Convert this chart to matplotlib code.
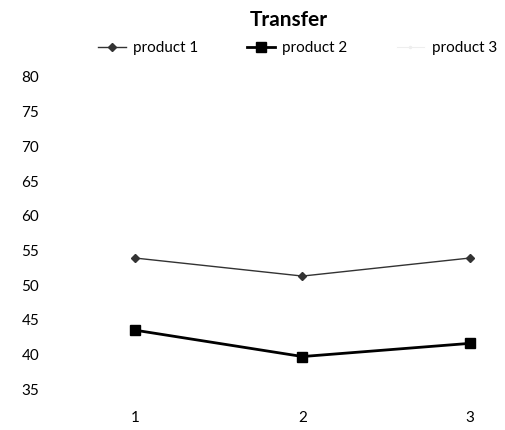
"""Line chart: Transfer values for three products."""

import numpy as np
import matplotlib

matplotlib.use("Agg")
import matplotlib.pyplot as plt

plt.rcParams["font.family"] = ["Lato", "DejaVu Sans"]

categories = [1, 2, 3]
product_1 = [53.9, 51.3, 53.9]
product_2 = [43.5, 39.7, 41.6]
product_3 = [np.nan, np.nan, np.nan]  # not visible in the reference
y_ticks = [35, 40, 45, 50, 55, 60, 65, 70, 75, 80]

fig = plt.figure(figsize=(5.06, 4.30), dpi=100)
ax = fig.add_axes([0.105, 0.095, 0.883, 0.726])

ax.plot(categories, product_1, color="#333333", linewidth=1.0,
        marker="D", markersize=4, label="product 1")
ax.plot(categories, product_2, color="black", linewidth=2.0,
        marker="s", markersize=7, label="product 2")
ax.plot(categories, product_3, color="#eeeeee", linewidth=0.8,
        marker=".", markersize=3, label="product 3")

ax.set_xlim(0.51, 3.18)
ax.set_ylim(35, 80)
ax.set_xticks(categories)
ax.set_yticks(y_ticks)
ax.tick_params(axis="both", length=0, labelsize=11)
ax.tick_params(axis="x", pad=16)
ax.tick_params(axis="y", pad=10)
for spine in ax.spines.values():
    spine.set_visible(False)

fig.text(0.571, 0.953, "Transfer", ha="center", va="center",
         fontsize=15, fontweight="bold")
fig.legend(loc="center", bbox_to_anchor=(0.588, 0.888), ncol=3,
           frameon=False, fontsize=11, handlelength=1.8,
           handletextpad=0.5, columnspacing=3.2)

fig.savefig("out.png", dpi=100)
